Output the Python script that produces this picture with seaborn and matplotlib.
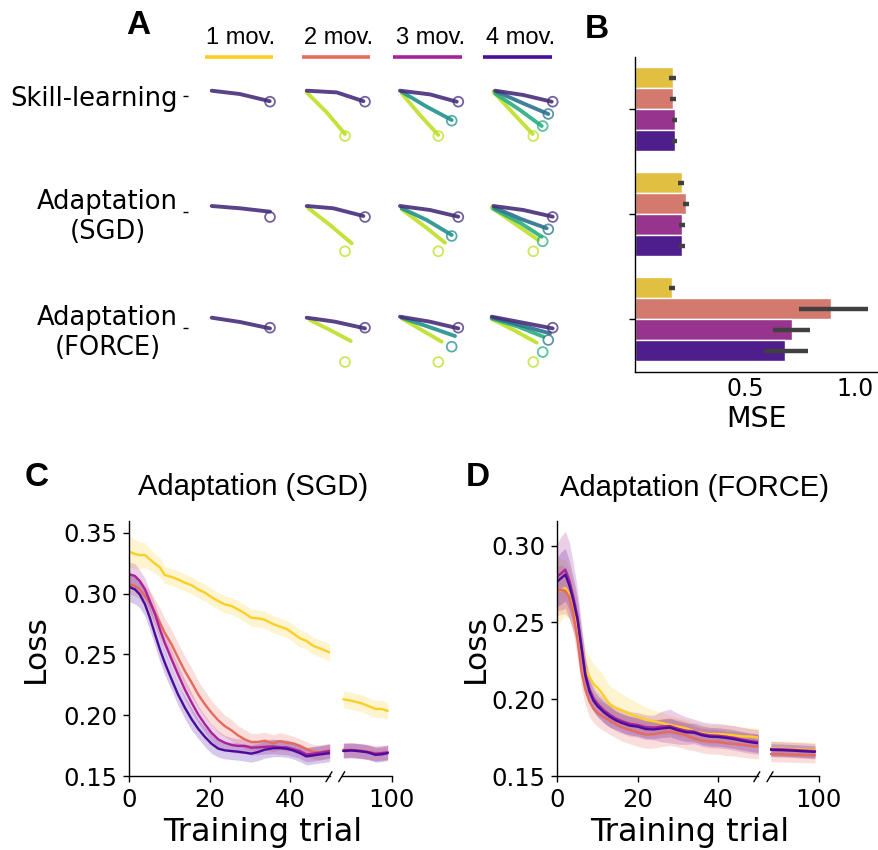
import numpy as np
import pandas as pd
import matplotlib
matplotlib.use("Agg")
import matplotlib.pyplot as plt
import seaborn as sns
from matplotlib.lines import Line2D

# ---------------------------------------------------------------- data
MOV_LABELS = ["1 mov.", "2 mov.", "3 mov.", "4 mov."]
CONDITIONS = ["Skill-learning", "Adaptation\n(SGD)", "Adaptation\n(FORCE)"]
PLASMA = ["#fccf25", "#e56b5d", "#a8239a", "#4a0c9e"]

# Panel A: target positions (relative to hand start, px, y downwards)
TGT_X = [[58.3], [58.3, 38.3], [58.3, 51.7, 38.3], [57.7, 53.3, 47.7, 38.3]]
TGT_Y = [[11.0], [11.0, 45.3], [11.0, 30.0, 45.3], [11.0, 23.3, 35.3, 45.3]]
A_COLORS = [["#472d7b"],
            ["#472d7b", "#bddf26"],
            ["#472d7b", "#21918c", "#bddf26"],
            ["#472d7b", "#2c728e", "#28ae80", "#bddf26"]]

# trajectories: [column][movement] -> (xs, ys) waypoints
TRAJ_SKILL = [
    [([0, 28, 58], [0, 3.3, 10.5])],
    [([0, 30, 56.7], [0, 1.7, 10.5]), ([0, 20, 38.3], [1.7, 21.7, 43.3])],
    [([0, 30, 56.7], [0, 3.7, 11]), ([1.7, 26.7, 51.7], [1, 16, 29.3]),
     ([1.7, 20, 38.3], [2.7, 24.3, 44.3])],
    [([0, 28.3, 56.7], [0, 4.3, 11]), ([1.7, 28.3, 53.3], [1, 12.7, 23.3]),
     ([0, 25, 46.7], [2.7, 19.3, 35.3]), ([-1.7, 18.3, 37.7], [1, 22.7, 43.3])],
]
TRAJ_SGD = [
    [([0, 28.3, 58.3], [0, 2.3, 5.7])],
    [([0, 26.7, 56.7], [0, 2.3, 10]), ([1.7, 23.3, 45], [2.3, 19, 37.3])],
    [([0, 30, 58.3], [0, 4, 10.7]), ([1.7, 26.7, 51.7], [2.3, 14, 29]),
     ([1.7, 25, 45], [3.3, 20.7, 36.7])],
    [([-1.7, 28.3, 57.7], [0, 4, 10.7]), ([0, 26.7, 51.7], [1.7, 13.3, 22.3]),
     ([-1.7, 25, 46.7], [2.7, 16.7, 30.7]), ([-3.3, 21.7, 43.3], [1.7, 19, 34])],
]
TRAJ_FORCE = [
    [([0, 28.3, 58.3], [1, 5.3, 11.7])],
    [([0, 28.3, 58.3], [1, 5, 11.7]), ([3.3, 23.3, 44], [3.3, 13.3, 24.3])],
    [([0, 30, 58.3], [0, 5, 11.7]), ([1.7, 28.3, 55], [1, 10, 19.3]),
     ([1.7, 21.7, 41.7], [1.7, 13.3, 25])],
    [([-3.3, 28, 57.7], [0, 6, 11.7]), ([-1.7, 27, 55], [1, 9, 16.7]),
     ([-3.3, 23.3, 48.3], [1.7, 10, 20]), ([-3.3, 20, 41.7], [2.3, 14, 26])],
]

# Panel B: MSE per condition and number of movements
MSE_SKILL = [0.171, 0.171, 0.182, 0.182]
MSE_SKILL_LO = [0.155, 0.159, 0.167, 0.167]
MSE_SKILL_HI = [0.186, 0.186, 0.192, 0.192]
MSE_SGD = [0.212, 0.232, 0.212, 0.212]
MSE_SGD_LO = [0.197, 0.218, 0.200, 0.200]
MSE_SGD_HI = [0.224, 0.247, 0.229, 0.226]
MSE_FORCE = [0.168, 0.891, 0.714, 0.682]
MSE_FORCE_LO = [0.155, 0.745, 0.626, 0.585]
MSE_FORCE_HI = [0.182, 1.061, 0.797, 0.785]

# Panel C: Adaptation (SGD) loss
C_X = [0, 1.4, 2.6, 3.9, 5.1, 6.4, 7.6, 8.8, 10.5, 12.1, 13.8, 15.5, 17.1, 18.8, 20.4, 22.1,
       23.7, 25.4, 27.0, 28.7, 30.3, 32.0, 33.6, 35.8, 37.4, 39.1, 40.7, 42.4, 44.0, 45.7, 47.3, 49.8]
C_1 = [0.3344, 0.3325, 0.3316, 0.3316, 0.3280, 0.3245, 0.3215, 0.3152, 0.3136, 0.3116, 0.3089,
       0.3067, 0.3034, 0.3007, 0.2971, 0.2938, 0.2911, 0.2897, 0.2870, 0.2837, 0.2801, 0.2796,
       0.2785, 0.2748, 0.2728, 0.2709, 0.2673, 0.2632, 0.2611, 0.2570, 0.2550, 0.2515]
C_2 = [0.3075, 0.3062, 0.3034, 0.2979, 0.2925, 0.2842, 0.2760, 0.2678, 0.2582, 0.2473, 0.2363,
       0.2267, 0.2171, 0.2089, 0.2021, 0.1958, 0.1911, 0.1875, 0.1834, 0.1801, 0.1779, 0.1779,
       0.1790, 0.1768, 0.1787, 0.1773, 0.1768, 0.1746, 0.1721, 0.1699, 0.1694, 0.1710]
C_3 = [0.3158, 0.3144, 0.3103, 0.3034, 0.2938, 0.2829, 0.2705, 0.2596, 0.2459, 0.2336, 0.2212,
       0.2103, 0.2007, 0.1925, 0.1856, 0.1801, 0.1774, 0.1755, 0.1747, 0.1747, 0.1733, 0.1735,
       0.1740, 0.1743, 0.1737, 0.1735, 0.1721, 0.1705, 0.1677, 0.1683, 0.1691, 0.1705]
C_4 = [0.3053, 0.3034, 0.2993, 0.2911, 0.2801, 0.2664, 0.2541, 0.2432, 0.2295, 0.2171, 0.2062,
       0.1966, 0.1889, 0.1821, 0.1766, 0.1725, 0.1711, 0.1705, 0.1700, 0.1692, 0.1684, 0.1697,
       0.1716, 0.1729, 0.1729, 0.1724, 0.1710, 0.1688, 0.1661, 0.1669, 0.1677, 0.1688]
C_1_BAND = [0.013, 0.012, 0.011, 0.010, 0.009, 0.008, 0.008, 0.007, 0.007, 0.007, 0.007, 0.007,
            0.007, 0.007, 0.007, 0.007, 0.007, 0.007, 0.007, 0.007, 0.007, 0.007, 0.007, 0.007,
            0.007, 0.007, 0.007, 0.007, 0.007, 0.007, 0.007, 0.007]
C_2_BAND = [0.008, 0.008, 0.008, 0.009, 0.010, 0.011, 0.012, 0.012, 0.012, 0.012, 0.012, 0.012,
            0.011, 0.011, 0.010, 0.010, 0.009, 0.009, 0.008, 0.008, 0.007, 0.007, 0.007, 0.007,
            0.007, 0.007, 0.006, 0.006, 0.006, 0.006, 0.006, 0.006]
C_3_BAND = [0.010, 0.010, 0.009, 0.009, 0.008, 0.008, 0.008, 0.008, 0.008, 0.008, 0.008, 0.008,
            0.007, 0.007, 0.007, 0.007, 0.006, 0.006, 0.006, 0.006, 0.006, 0.006, 0.006, 0.006,
            0.006, 0.006, 0.006, 0.006, 0.006, 0.006, 0.006, 0.006]
C_4_BAND = [0.012, 0.012, 0.011, 0.010, 0.010, 0.010, 0.010, 0.010, 0.009, 0.009, 0.009, 0.009,
            0.008, 0.008, 0.008, 0.007, 0.007, 0.007, 0.007, 0.007, 0.007, 0.007, 0.007, 0.007,
            0.007, 0.007, 0.007, 0.007, 0.007, 0.007, 0.007, 0.007]
C_XR = [88, 90, 92.5, 94, 96, 97.5, 99]
C_1R = [0.2130, 0.2119, 0.2097, 0.2078, 0.2051, 0.2051, 0.2035]
C_2R = [0.1715, 0.1715, 0.1708, 0.1700, 0.1688, 0.1690, 0.1695]
C_3R = [0.1710, 0.1712, 0.1705, 0.1697, 0.1682, 0.1688, 0.1694]
C_4R = [0.1705, 0.1710, 0.1702, 0.1695, 0.1674, 0.1678, 0.1688]
C_1R_BAND = [0.007, 0.007, 0.007, 0.007, 0.007, 0.007, 0.007]
C_2R_BAND = [0.006, 0.006, 0.006, 0.006, 0.006, 0.006, 0.006]
C_3R_BAND = [0.006, 0.006, 0.006, 0.006, 0.006, 0.006, 0.006]
C_4R_BAND = [0.006, 0.006, 0.006, 0.006, 0.006, 0.006, 0.006]

# Panel D: Adaptation (FORCE) loss
D_X = [0, 1, 2, 3, 4, 5, 6, 7, 8, 9, 10, 11.5, 13, 14.5, 16, 18, 20, 22, 24, 26, 28, 30,
       32, 34, 36, 38, 40, 42, 44, 46, 48, 50]
D_1 = [0.2700, 0.2712, 0.2724, 0.2685, 0.2598, 0.2475, 0.2311, 0.2200, 0.2145, 0.2100, 0.2075,
       0.2025, 0.1967, 0.1943, 0.1927, 0.1904, 0.1885, 0.1866, 0.1856, 0.1845, 0.1833, 0.1821,
       0.1810, 0.1792, 0.1780, 0.1772, 0.1773, 0.1770, 0.1765, 0.1758, 0.1757, 0.1750]
D_2 = [0.2705, 0.2713, 0.2705, 0.2665, 0.2555, 0.2390, 0.2180, 0.2060, 0.1985, 0.1938, 0.1911,
       0.1885, 0.1861, 0.1839, 0.1818, 0.1800, 0.1783, 0.1770, 0.1772, 0.1782, 0.1789, 0.1779,
       0.1765, 0.1745, 0.1730, 0.1724, 0.1722, 0.1713, 0.1709, 0.1703, 0.1696, 0.1691]
D_3 = [0.2800, 0.2820, 0.2843, 0.2770, 0.2665, 0.2540, 0.2350, 0.2165, 0.2065, 0.2005, 0.1970,
       0.1930, 0.1900, 0.1875, 0.1858, 0.1840, 0.1832, 0.1818, 0.1815, 0.1822, 0.1825, 0.1808,
       0.1795, 0.1790, 0.1773, 0.1764, 0.1762, 0.1756, 0.1748, 0.1737, 0.1728, 0.1721]
D_4 = [0.2767, 0.2789, 0.2811, 0.2740, 0.2640, 0.2520, 0.2333, 0.2150, 0.2050, 0.1990, 0.1955,
       0.1917, 0.1887, 0.1863, 0.1846, 0.1828, 0.1821, 0.1806, 0.1803, 0.1810, 0.1815, 0.1798,
       0.1785, 0.1782, 0.1765, 0.1756, 0.1754, 0.1748, 0.1740, 0.1729, 0.1720, 0.1713]
D_1_BAND = [0.022, 0.020, 0.018, 0.016, 0.015, 0.014, 0.013, 0.013, 0.013, 0.013, 0.013, 0.013,
            0.012, 0.012, 0.011, 0.010, 0.009, 0.008, 0.007, 0.007, 0.006, 0.006, 0.006, 0.006,
            0.006, 0.006, 0.006, 0.006, 0.006, 0.006, 0.006, 0.006]
D_2_BAND = [0.016, 0.016, 0.015, 0.014, 0.013, 0.012, 0.011, 0.010, 0.010, 0.009, 0.009, 0.009,
            0.009, 0.009, 0.009, 0.009, 0.009, 0.009, 0.009, 0.009, 0.009, 0.009, 0.009, 0.008,
            0.008, 0.008, 0.008, 0.008, 0.008, 0.008, 0.008, 0.008]
D_3_BAND = [0.022, 0.024, 0.025, 0.025, 0.022, 0.018, 0.014, 0.011, 0.009, 0.008, 0.008, 0.008,
            0.008, 0.008, 0.008, 0.008, 0.008, 0.008, 0.008, 0.010, 0.011, 0.010, 0.009, 0.008,
            0.008, 0.008, 0.008, 0.008, 0.008, 0.008, 0.008, 0.008]
D_4_BAND = [0.016, 0.017, 0.017, 0.016, 0.015, 0.014, 0.012, 0.010, 0.008, 0.007, 0.007, 0.007,
            0.007, 0.006, 0.006, 0.006, 0.006, 0.006, 0.006, 0.006, 0.006, 0.006, 0.006, 0.006,
            0.006, 0.006, 0.006, 0.006, 0.006, 0.006, 0.006, 0.006]
D_XR = [88, 91, 93.5, 96, 99]
D_1R = [0.1680, 0.1678, 0.1676, 0.1673, 0.1670]
D_2R = [0.1643, 0.1641, 0.1639, 0.1637, 0.1635]
D_3R = [0.1675, 0.1673, 0.1670, 0.1666, 0.1662]
D_4R = [0.1670, 0.1668, 0.1665, 0.1661, 0.1657]
D_1R_BAND = [0.005, 0.005, 0.005, 0.005, 0.005]
D_2R_BAND = [0.005, 0.005, 0.005, 0.005, 0.005]
D_3R_BAND = [0.005, 0.005, 0.005, 0.005, 0.005]
D_4R_BAND = [0.004, 0.004, 0.004, 0.004, 0.004]

# ---------------------------------------------------------------- style
sns.set_style("ticks")
plt.rcParams["font.family"] = ["DejaVu Sans"]
plt.rcParams["axes.linewidth"] = 1.0
plt.rcParams["xtick.major.width"] = 1.0
plt.rcParams["ytick.major.width"] = 1.0
plt.rcParams["xtick.color"] = "black"
plt.rcParams["ytick.color"] = "black"
plt.rcParams["axes.edgecolor"] = "black"
plt.rcParams["text.color"] = "black"
plt.rcParams["axes.labelcolor"] = "black"
ARIAL = ["Liberation Sans", "DejaVu Sans"]

W, H = 879, 850
fig = plt.figure(figsize=(W / 100, H / 100), dpi=100)


def ax_px(l, t, r, b):
    return fig.add_axes([l / W, 1 - b / H, (r - l) / W, (b - t) / H])


def fig_line(x0, y0, x1, y1, **kw):
    fig.add_artist(Line2D([x0 / W, x1 / W], [1 - y0 / H, 1 - y1 / H],
                          transform=fig.transFigure, **kw))


# ---------------------------------------------------------------- panel A
lab_ax = ax_px(188, 60, 580, 372)
lab_ax.set_xlim(188, 580)
lab_ax.set_ylim(372, 60)
lab_ax.patch.set_visible(False)
for s in lab_ax.spines.values():
    s.set_visible(False)
lab_ax.set_xticks([])
lab_ax.set_yticks([96, 211.7, 327.7])
lab_ax.set_yticklabels(CONDITIONS, fontsize=18.5)
for t in lab_ax.get_yticklabels():
    t.set_multialignment("center")
lab_ax.tick_params(axis="y", length=3.6, width=1.0, pad=3.6)

COL_X0 = [211.7, 306.7, 400.0, 495.0]
ROW_Y0 = [90.7, 206.0, 316.7]
for r, rowtraj in enumerate([TRAJ_SKILL, TRAJ_SGD, TRAJ_FORCE]):
    for c, trajs in enumerate(rowtraj):
        ax = ax_px(COL_X0[c] - 8, ROW_Y0[r] - 8, COL_X0[c] + 68, ROW_Y0[r] + 55)
        ax.axis("off")
        cols = A_COLORS[c]
        for k in reversed(range(len(trajs))):
            xs, ys = trajs[k]
            sns.lineplot(x=xs, y=ys, sort=False, estimator=None, color=cols[k],
                         lw=2.8, alpha=0.9, ax=ax, solid_capstyle="round")
        ax.scatter(TGT_X[c], TGT_Y[c], s=50, facecolors="none", edgecolors=cols,
                   linewidths=1.3, alpha=0.75, clip_on=False, zorder=5)
        ax.set_xlim(-8, 68)
        ax.set_ylim(55, -8)

# column headers with coloured underlines
HEAD_X = [241, 338.5, 431, 521]
LINE_X = [(205, 273), (302, 370), (393, 462), (483, 552)]
for lab, hx, (lx0, lx1), col in zip(MOV_LABELS, HEAD_X, LINE_X, PLASMA):
    fig.text(hx / W, 1 - 38 / H, lab, ha="center", va="center", fontsize=17,
             family=ARIAL)
    fig_line(lx0, 56.7, lx1, 56.7, color=col, lw=2.6, solid_capstyle="butt")

# ---------------------------------------------------------------- panel B
rows = []
for cond, vals, los, his in zip(
        CONDITIONS,
        [MSE_SKILL, MSE_SGD, MSE_FORCE],
        [MSE_SKILL_LO, MSE_SGD_LO, MSE_FORCE_LO],
        [MSE_SKILL_HI, MSE_SGD_HI, MSE_FORCE_HI]):
    for mov, v, lo, hi in zip(MOV_LABELS, vals, los, his):
        for val in (lo, v, hi):
            rows.append({"cond": cond, "mov": mov, "mse": val})
dfB = pd.DataFrame(rows)

axB = ax_px(635, 56.7, 878, 371.7)
sns.barplot(data=dfB, x="mse", y="cond", hue="mov", order=CONDITIONS,
            hue_order=MOV_LABELS, orient="h", estimator="median",
            errorbar=("pi", 100), palette=PLASMA, saturation=0.75,
            err_kws={"color": "#404040", "linewidth": 3.2, "solid_capstyle": "butt"},
            legend=False, ax=axB)
axB.set_xlim(0, 1.105)
axB.set_ylim(2.5, -0.5)
axB.set_yticks([0, 1, 2])
axB.set_yticklabels(["", "", ""])
axB.set_xticks([0.5, 1.0])
axB.set_xticklabels(["0.5", "1.0"], fontsize=17)
axB.tick_params(axis="x", length=0, pad=4)
axB.tick_params(axis="y", length=4, width=1.0)
axB.set_ylabel("")
axB.set_xlabel("MSE", fontsize=20.5)
axB.xaxis.set_label_coords(0.5, -0.105)
sns.despine(ax=axB)


# ---------------------------------------------------------------- panels C, D
def loss_panel(l_left, l_right, r_left, r_right, top, bottom, xl_max, xr_min,
               ylim, yticks, left_series, right_series, xs_l, xs_r):
    axl = ax_px(l_left, top, l_right, bottom)
    axr = ax_px(r_left, top, r_right, bottom)
    for ax, xs, series in ((axl, xs_l, left_series), (axr, xs_r, right_series)):
        recs = []
        for mov, (ys, band) in zip(MOV_LABELS, series):
            for x, y in zip(xs, ys):
                recs.append({"trial": x, "loss": y, "mov": mov})
        df = pd.DataFrame(recs)
        for mov, col, (ys, band) in zip(MOV_LABELS, PLASMA, series):
            ys = np.asarray(ys)
            band = np.asarray(band)
            ax.fill_between(xs, ys - band, ys + band, color=col, alpha=0.22, lw=0)
        sns.lineplot(data=df, x="trial", y="loss", hue="mov", hue_order=MOV_LABELS,
                     palette=PLASMA, errorbar=None, legend=False, lw=1.7, ax=ax)
        ax.set_ylim(*ylim)
        ax.set_xlabel("")
        ax.set_ylabel("")
        ax.tick_params(labelsize=17.5, length=4.5, width=1.0, pad=4)
    axl.set_xlim(0, xl_max)
    axr.set_xlim(xr_min, 100)
    axl.set_xticks([0, 20, 40])
    axl.set_yticks(yticks)
    axl.set_yticklabels([f"{v:.2f}" for v in yticks])
    axr.set_xticks([100])
    axr.set_yticks([])
    sns.despine(ax=axl)
    sns.despine(ax=axr, left=True)
    # break marks
    for xe in (l_right - 1.5, r_left):
        fig_line(xe - 3, bottom + 5.7, xe + 3, bottom - 4.3, color="black", lw=1.0)
    return axl, axr


axC1, axC2 = loss_panel(
    129.3, 330.5, 341.7, 391.7, 521, 776, 50.0, 87.6, (0.15, 0.3596),
    [0.15, 0.20, 0.25, 0.30, 0.35],
    [(C_1, C_1_BAND), (C_2, C_2_BAND), (C_3, C_3_BAND), (C_4, C_4_BAND)],
    [(C_1R, C_1R_BAND), (C_2R, C_2R_BAND), (C_3R, C_3R_BAND), (C_4R, C_4R_BAND)],
    C_X, C_XR)
axD1, axD2 = loss_panel(
    557.3, 758.3, 770.0, 819.0, 521, 776, 50.0, 87.8, (0.15, 0.316),
    [0.15, 0.20, 0.25, 0.30],
    [(D_1, D_1_BAND), (D_2, D_2_BAND), (D_3, D_3_BAND), (D_4, D_4_BAND)],
    [(D_1R, D_1R_BAND), (D_2R, D_2R_BAND), (D_3R, D_3R_BAND), (D_4R, D_4R_BAND)],
    D_X, D_XR)

axC1.set_ylabel("Loss", fontsize=22.5)
axC1.yaxis.set_label_coords((50 - 129.3) / 201.2, 0.5)
axD1.set_ylabel("Loss", fontsize=22.5)
axD1.yaxis.set_label_coords((490 - 557.3) / 201.0, 0.5)

fig.text(263 / W, 1 - 832 / H, "Training trial", ha="center", va="center", fontsize=23)
fig.text(690 / W, 1 - 832 / H, "Training trial", ha="center", va="center", fontsize=23)
fig.text(253 / W, 1 - 487 / H, "Adaptation (SGD)", ha="center", va="center",
         fontsize=21, family=ARIAL)
fig.text(695 / W, 1 - 488 / H, "Adaptation (FORCE)", ha="center", va="center",
         fontsize=21, family=ARIAL)

# panel letters
for letter, (px, py) in zip("ABCD", [(138, 26), (597, 30), (37, 478), (478, 478)]):
    fig.text(px / W, 1 - py / H, letter, ha="center", va="center", fontsize=24,
             fontweight="bold", family=ARIAL)

fig.savefig("out.png", dpi=100)
